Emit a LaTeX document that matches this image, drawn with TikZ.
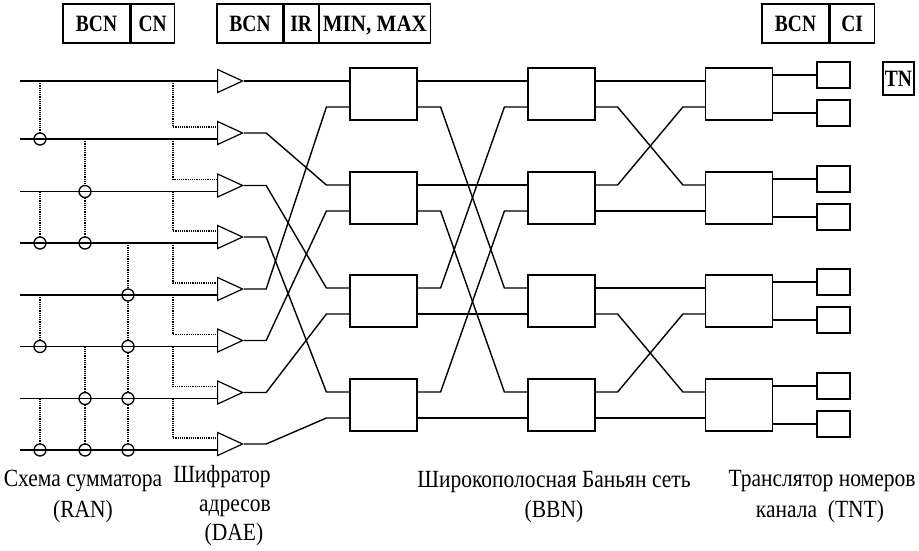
\documentclass[tikz,border=0pt]{standalone}
\usepackage{fontspec}
\setmainfont{Liberation Serif}
\usetikzlibrary{positioning,shapes.geometric,calc}

\newcommand{\tallword}[1]{\scalebox{1}[1.2]{#1}}
\newcommand{\tallcap}[1]{\scalebox{1}[1.15]{#1}}

\begin{document}
\begin{tikzpicture}[x=1pt, y=-1pt,
    wire/.style={line width=1.4pt},
    tap/.style={densely dotted, line width=1.2pt},
    adder/.style={circle, draw, line width=1.3pt, minimum size=12pt, inner sep=0pt},
    amp/.style={isosceles triangle, isosceles triangle stretches, draw, line width=1.2pt,
      minimum width=23pt, minimum height=25pt, inner sep=0pt, anchor=west},
    sw/.style={rectangle, draw, line width=1.2pt, minimum width=67pt, minimum height=52pt},
    tn/.style={rectangle, draw, line width=1.2pt, minimum width=33pt, minimum height=26pt},
    field/.style={rectangle, draw, line width=1.2pt, minimum height=39pt, inner sep=0pt,
      text height=16pt, text depth=0pt, font=\fontsize{19.5}{21}\selectfont\bfseries},
    caption/.style={font=\fontsize{21.5}{23}\selectfont, inner sep=0pt}]
    \useasboundingbox (0,0) rectangle (919,550);

    % header fields
    \node[field, minimum width=67pt] (h1bcn) at (96.5,23.5) {\tallword{BCN}};
    \node[field, minimum width=43pt, right=0pt of h1bcn] (h1cn) {\tallword{CN}};
    \node[field, minimum width=66pt] (h2bcn) at (250,23.5) {\tallword{BCN}};
    \node[field, minimum width=34pt, right=0pt of h2bcn] (h2ir) {\tallword{IR}};
    \node[field, minimum width=111pt, right=0pt of h2ir] (h2mm) {\scalebox{1.08}[1.2]{MIN, MAX}};
    \node[field, minimum width=67pt] (h3bcn) at (795.5,23.5) {\tallword{BCN}};
    \node[field, minimum width=44pt, right=0pt of h3bcn] (h3ci) {\tallword{CI}};
    \node[field, minimum width=31pt, minimum height=33pt] (htn) at (898.5,78.5) {\tallword{TN}};

    % inputs
    \coordinate (in1) at (20,81);
    \coordinate (in2) at (20,139);
    \coordinate (in3) at (20,191.5);
    \coordinate (in4) at (20,243);
    \coordinate (in5) at (20,295);
    \coordinate (in6) at (20,346.5);
    \coordinate (in7) at (20,398.5);
    \coordinate (in8) at (20,450);

    % address encoder
    \node[amp] (t1) at (217,81) {};
    \node[amp] (t2) at (217,133) {};
    \node[amp] (t3) at (217,185.5) {};
    \node[amp] (t4) at (217,237) {};
    \node[amp] (t5) at (217,289) {};
    \node[amp] (t6) at (217,340.5) {};
    \node[amp] (t7) at (217,392.5) {};
    \node[amp] (t8) at (217,444) {};

    \draw[wire] (in1) -- (t1.west);
    \draw[wire] (in2) -- (in2 -| t2.west);
    \draw[wire] (in3) -- (in3 -| t3.west);
    \draw[wire] (in4) -- (in4 -| t4.west);
    \draw[wire] (in5) -- (in5 -| t5.west);
    \draw[wire] (in6) -- (in6 -| t6.west);
    \draw[wire] (in7) -- (in7 -| t7.west);
    \draw[wire] (in8) -- (in8 -| t8.west);

    % adders
    \node[adder] (a12) at (40,139) {};
    \node[adder] (a14) at (40,243) {};
    \node[adder] (a16) at (40,346.5) {};
    \node[adder] (a18) at (40,450) {};
    \node[adder] (a23) at (85,191.5) {};
    \node[adder] (a24) at (85,243) {};
    \node[adder] (a27) at (85,398.5) {};
    \node[adder] (a28) at (85,450) {};
    \node[adder] (a35) at (128,295) {};
    \node[adder] (a36) at (128,346.5) {};
    \node[adder] (a37) at (128,398.5) {};
    \node[adder] (a38) at (128,450) {};

    \coordinate (k1) at (40,81);
    \coordinate (k3) at (40,191.5);
    \coordinate (k5) at (40,295);
    \coordinate (k7) at (40,398.5);
    \coordinate (m2) at (85,139);
    \coordinate (m6) at (85,346.5);
    \coordinate (n4) at (128,243);
    \draw[tap] (k1) -- (a12);
    \draw[tap] (k3) -- (a14);
    \draw[tap] (k5) -- (a16);
    \draw[tap] (k7) -- (a18);
    \draw[tap] (m2) -- (a23) -- (a24);
    \draw[tap] (m6) -- (a27) -- (a28);
    \draw[tap] (n4) -- (a35) -- (a36) -- (a37) -- (a38);

    \coordinate (d1) at (173,81);
    \coordinate (d2) at (173,139);
    \coordinate (d3) at (173,191.5);
    \coordinate (d4) at (173,243);
    \coordinate (d5) at (173,295);
    \coordinate (d6) at (173,346.5);
    \coordinate (d7) at (173,398.5);
    \draw[tap] (d1) |- ([yshift=6pt]t2.west);
    \draw[tap] (d2) |- ([yshift=6pt]t3.west);
    \draw[tap] (d3) |- ([yshift=6pt]t4.west);
    \draw[tap] (d4) |- ([yshift=6pt]t5.west);
    \draw[tap] (d5) |- ([yshift=6pt]t6.west);
    \draw[tap] (d6) |- ([yshift=6pt]t7.west);
    \draw[tap] (d7) |- ([yshift=6pt]t8.west);

    % banyan switches
    \node[sw] (s11) at (383.5,94) {};
    \node[sw] (s12) at (383.5,198) {};
    \node[sw] (s13) at (383.5,301) {};
    \node[sw] (s14) at (383.5,405) {};
    \node[sw] (s21) at (561.5,94) {};
    \node[sw] (s22) at (561.5,198) {};
    \node[sw] (s23) at (561.5,301) {};
    \node[sw] (s24) at (561.5,405) {};
    \node[sw] (s31) at (739,94) {};
    \node[sw] (s32) at (739,198) {};
    \node[sw] (s33) at (739,301) {};
    \node[sw] (s34) at (739,405) {};

    \draw[wire] (t1.apex) -- ([yshift=13pt]s11.west);
    \draw[wire] (t2.apex) -- ++(22,0) -- ([xshift=-23pt,yshift=13pt]s12.west) -- ([yshift=13pt]s12.west);
    \draw[wire] (t3.apex) -- ++(22,0) -- ([xshift=-23pt,yshift=13pt]s13.west) -- ([yshift=13pt]s13.west);
    \draw[wire] (t4.apex) -- ++(22,0) -- ([xshift=-23pt,yshift=13pt]s14.west) -- ([yshift=13pt]s14.west);
    \draw[wire] (t5.apex) -- ++(22,0) -- ([xshift=-23pt,yshift=-13pt]s11.west) -- ([yshift=-13pt]s11.west);
    \draw[wire] (t6.apex) -- ++(22,0) -- ([xshift=-23pt,yshift=-13pt]s12.west) -- ([yshift=-13pt]s12.west);
    \draw[wire] (t7.apex) -- ++(22,0) -- ([xshift=-23pt,yshift=-13pt]s13.west) -- ([yshift=-13pt]s13.west);
    \draw[wire] (t8.apex) -- ++(22,0) -- ([xshift=-23pt,yshift=-13pt]s14.west) -- ([yshift=-13pt]s14.west);

    % stage 1 to stage 2
    \draw[wire] ([yshift=13pt]s11.east) -- ([yshift=13pt]s21.west);
    \draw[wire] ([yshift=13pt]s12.east) -- ([yshift=13pt]s22.west);
    \draw[wire] ([yshift=-13pt]s13.east) -- ([yshift=-13pt]s23.west);
    \draw[wire] ([yshift=-13pt]s14.east) -- ([yshift=-13pt]s24.west);
    \draw[wire] ([yshift=-13pt]s11.east) -- ++(23,0) -- ([xshift=-23pt,yshift=13pt]s23.west) -- ([yshift=13pt]s23.west);
    \draw[wire] ([yshift=-13pt]s12.east) -- ++(23,0) -- ([xshift=-23pt,yshift=13pt]s24.west) -- ([yshift=13pt]s24.west);
    \draw[wire] ([yshift=13pt]s13.east) -- ++(23,0) -- ([xshift=-23pt,yshift=-13pt]s21.west) -- ([yshift=-13pt]s21.west);
    \draw[wire] ([yshift=13pt]s14.east) -- ++(23,0) -- ([xshift=-23pt,yshift=-13pt]s22.west) -- ([yshift=-13pt]s22.west);

    % stage 2 to stage 3
    \draw[wire] ([yshift=13pt]s21.east) -- ([yshift=13pt]s31.west);
    \draw[wire] ([yshift=-13pt]s22.east) -- ([yshift=-13pt]s32.west);
    \draw[wire] ([yshift=13pt]s23.east) -- ([yshift=13pt]s33.west);
    \draw[wire] ([yshift=-13pt]s24.east) -- ([yshift=-13pt]s34.west);
    \draw[wire] ([yshift=-13pt]s21.east) -- ++(22,0) -- ([xshift=-22pt,yshift=13pt]s32.west) -- ([yshift=13pt]s32.west);
    \draw[wire] ([yshift=13pt]s22.east) -- ++(22,0) -- ([xshift=-22pt,yshift=-13pt]s31.west) -- ([yshift=-13pt]s31.west);
    \draw[wire] ([yshift=-13pt]s23.east) -- ++(22,0) -- ([xshift=-22pt,yshift=13pt]s34.west) -- ([yshift=13pt]s34.west);
    \draw[wire] ([yshift=13pt]s24.east) -- ++(22,0) -- ([xshift=-22pt,yshift=-13pt]s33.west) -- ([yshift=-13pt]s33.west);

    % channel number translator
    \node[tn] (o1) at (833.5,75) {};
    \node[tn] (o2) at (833.5,113) {};
    \node[tn] (o3) at (833.5,179) {};
    \node[tn] (o4) at (833.5,217) {};
    \node[tn] (o5) at (833.5,282) {};
    \node[tn] (o6) at (833.5,320) {};
    \node[tn] (o7) at (833.5,386) {};
    \node[tn] (o8) at (833.5,424) {};
    \draw[wire] ([yshift=19pt]s31.east) -- (o1.west);
    \draw[wire] ([yshift=-19pt]s31.east) -- (o2.west);
    \draw[wire] ([yshift=19pt]s32.east) -- (o3.west);
    \draw[wire] ([yshift=-19pt]s32.east) -- (o4.west);
    \draw[wire] ([yshift=19pt]s33.east) -- (o5.west);
    \draw[wire] ([yshift=-19pt]s33.east) -- (o6.west);
    \draw[wire] ([yshift=19pt]s34.east) -- (o7.west);
    \draw[wire] ([yshift=-19pt]s34.east) -- (o8.west);

    % captions
    \node[caption] (cran) at (83,481) {\tallcap{Схема сумматора}};
    \node[caption] (cran2) at (83,512) {\tallcap{(RAN)}};
    \node[caption] (cdae) at (222,477) {\tallcap{Шифратор}};
    \node[caption] (cdae2) at (235,508) {\tallcap{адресов}};
    \node[caption] (cdae3) at (234,535) {\tallcap{(DAE)}};
    \node[caption] (cbbn) at (554,482) {\tallcap{Широкополосная Баньян сеть}};
    \node[caption] (cbbn2) at (554,512) {\tallcap{(BBN)}};
    \node[caption] (ctnt) at (822,481) {\tallcap{Транслятор номеров}};
    \node[caption] (ctnt2) at (820,512) {\tallcap{канала\ \ (TNT)}};
\end{tikzpicture}
\end{document}
